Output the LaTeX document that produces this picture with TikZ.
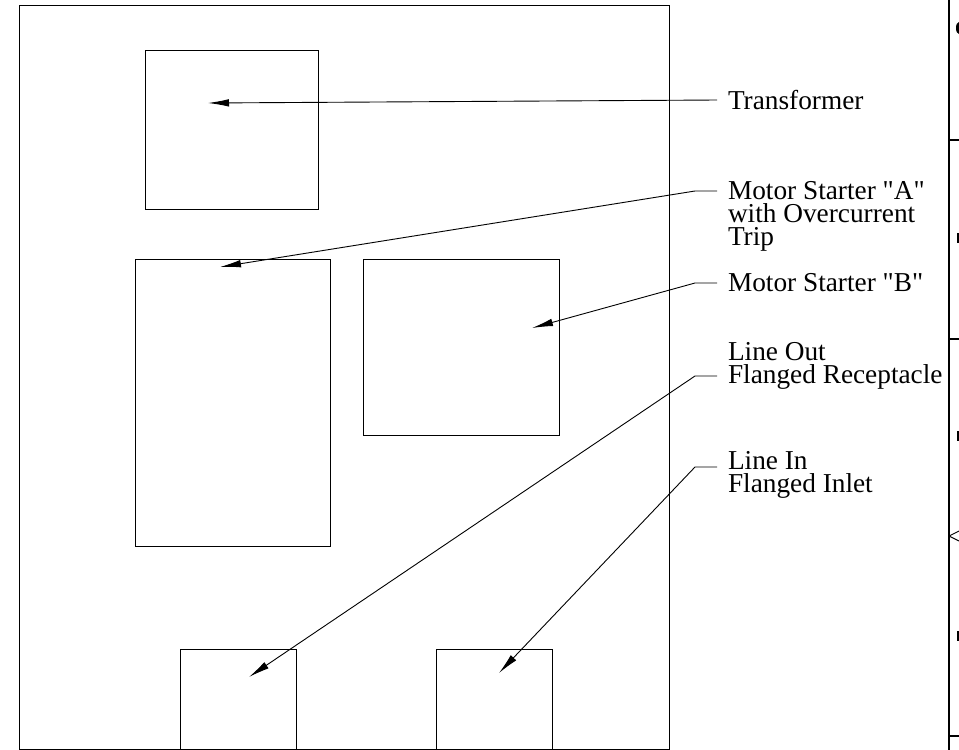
\documentclass[tikz,border=0pt]{standalone}
\usepackage{fontspec}
\setmainfont{Liberation Serif}[Ligatures=TeXOff]
\usetikzlibrary{arrows.meta,positioning}

\begin{document}
\begin{tikzpicture}[x=1pt,y=-1pt]
\tikzstyle{box} = [rectangle, draw=black, line width=1.1pt, inner sep=0pt, anchor=north west]
\tikzstyle{label} = [font=\fontsize{27.3}{23}\selectfont, align=left, anchor=west, inner sep=0pt, outer sep=11pt]
\tikzstyle{line} = [draw, line width=0.9pt, -{Latex[length=21pt,width=7.5pt]}];
\tikzstyle{rule} = [draw, line width=1.1pt];
\useasboundingbox (0,0) rectangle (959,750);
% panel and boxes
\node [box, minimum width=650pt, minimum height=744pt] (panel) at (19,5) {};
\node [box, minimum width=173pt, minimum height=159pt] (trans) at (145,50) {};
\node [box, minimum width=195pt, minimum height=287pt] (startA) at (135,259) {};
\node [box, minimum width=196pt, minimum height=176pt] (startB) at (363,259) {};
\node [box, minimum width=116pt, minimum height=100pt] (outlet) at (180,649) {};
\node [box, minimum width=116pt, minimum height=100pt] (inlet) at (436,649) {};
% labels
\node [label] (lblT) at (717,100) {Transformer};
\node [label] (lblA) at (717,216) {Motor Starter "A"\\with Overcurrent\\Trip};
\node [label] (lblB) at (717,283) {Motor Starter "B"};
\node [label] (lblO) at (717,366) {Line Out\\Flanged Receptacle};
\node [label] (lblI) at (717,475) {Line In\\Flanged Inlet};
% leaders
\coordinate (tipT) at (208,103);
\coordinate (tipA) at (220,267);
\coordinate (tipB) at (532,328);
\coordinate (tipO) at (249,677);
\coordinate (tipI) at (499,673);
\path [line] (lblT.west) -- (tipT);
\path [line] ([yshift=25pt]lblA.west) -- ++(-22,0) -- (tipA);
\path [line] (lblB.west) -- ++(-22,0) -- (tipB);
\path [line] ([yshift=-10pt]lblO.west) -- ++(-22,0) -- (tipO);
\path [line] ([yshift=8pt]lblI.west) -- ++(-22,0) -- (tipI);
% next sheet column
\coordinate (colTop) at (949,0);
\coordinate (colBot) at (949,750);
\path [rule] (colTop) -- (colBot);
\foreach \y in {140,339,736}
  \path [rule] (949,\y) -- (959,\y);
\fill (959,34) arc (90:270:3 and 6) -- cycle;
\foreach \y in {238,436,636}
  \fill (957,\y-5) rectangle (959,\y+5);
\path [draw, line width=0.9pt] (959,531) -- (949,536) -- (959,541);
\end{tikzpicture}
\end{document}
